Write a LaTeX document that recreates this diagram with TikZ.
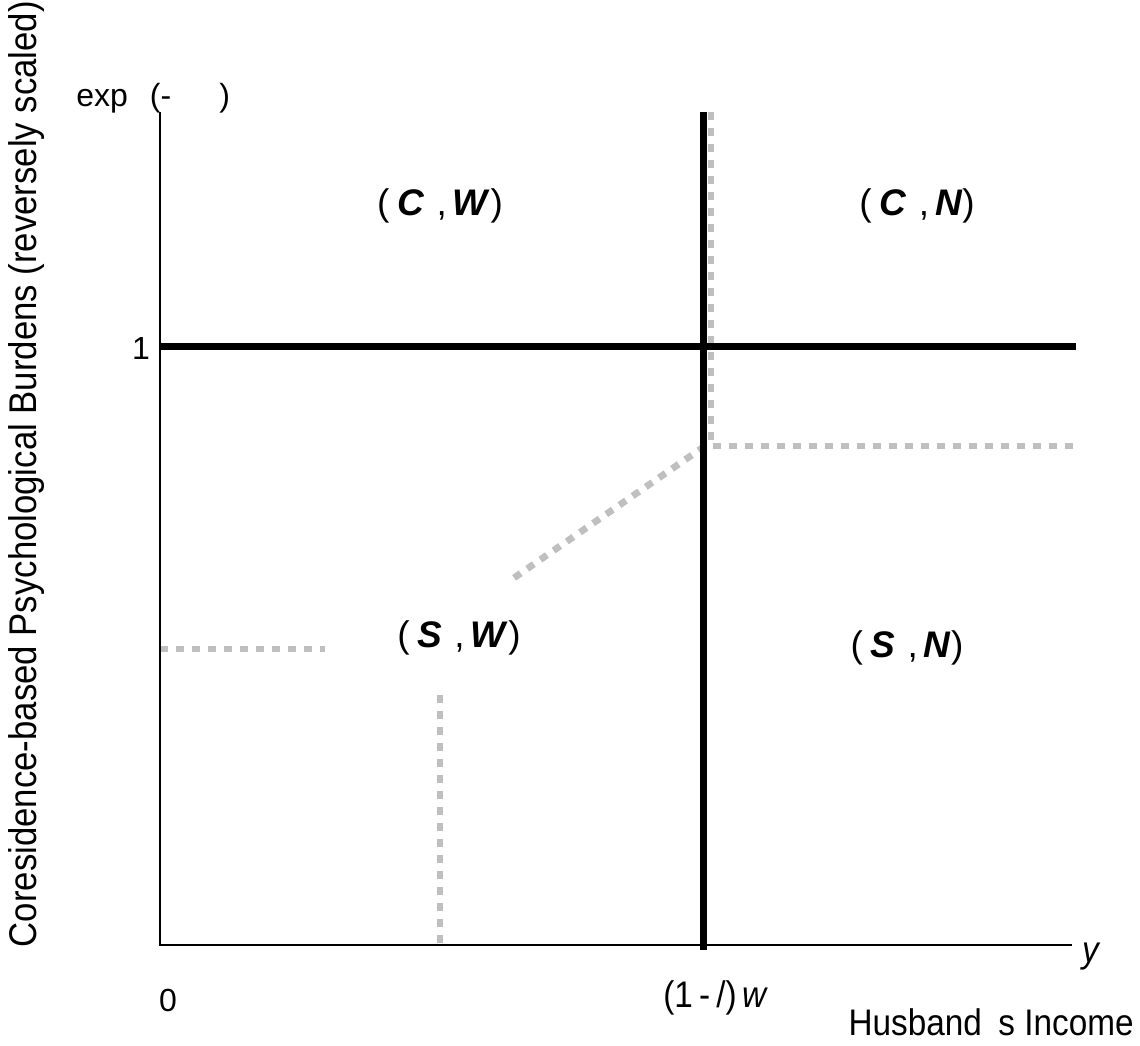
\documentclass[tikz,border=0pt]{standalone}
\usepackage{fontspec}
\setmainfont{Liberation Sans}
\newfontfamily\axfont[FakeStretch=0.9]{Liberation Sans}
\begin{document}
\begin{tikzpicture}[x=0.5pt,y=-0.5pt,
  axis/.style={line width=1.1pt,black},
  thick line/.style={line width=3.5pt,black},
  graydash/.style={line width=3.4pt,color=black!25,dash pattern=on 4pt off 4pt},
  lbl/.style={font=\fontsize{16}{18}\selectfont,inner sep=0pt},
  axlbl/.style={font=\axfont\fontsize{18.5}{20}\selectfont,inner sep=0pt},
  ylbl/.style={font=\axfont\fontsize{19.3}{21}\selectfont,inner sep=0pt},
  reg/.style={font=\fontsize{18.5}{20}\selectfont,inner sep=0pt}]
\useasboundingbox (0,0) rectangle (1140,1045);
% coordinates
\coordinate (O) at (160,945);
\coordinate (Ytop) at (160,112);
\coordinate (Xend) at (1072,945);
\coordinate (Hl) at (160,346);
\coordinate (Hr) at (1076,346);
\coordinate (Vt) at (703,112);
\coordinate (Vb) at (703,950);
\coordinate (G1) at (711,112);
\coordinate (G2) at (711,446);
\coordinate (G3) at (1076,446);
\coordinate (G4) at (705,446);
\coordinate (G5) at (508,582);
\coordinate (G6) at (160,649);
\coordinate (G7) at (325,649);
\coordinate (G8) at (440,695);
\coordinate (G9) at (440,945);
% gray dotted lines
\draw[graydash] (G1) -- (G2) -- (G3);
\draw[graydash] (G4) -- (G5);
\draw[graydash] (G6) -- (G7);
\draw[graydash] (G8) -- (G9);
% axes
\draw[axis] (Ytop) -- (O) -- (Xend);
% thick lines
\draw[thick line] (Hl) -- (Hr);
\draw[thick line] (Vt) -- (Vb);
% labels
\node[lbl,anchor=west] (exp) at (76,98) {exp\hspace{11pt}(-\hspace{24pt})};
\node[lbl] (one) at (141,348) {1};
\node[lbl] (zero) at (168,1000) {0};
\node[axlbl] (thr) at (716,998) {(1\,-\,/)\,\textit{w}};
\node[axlbl] (yl) at (1092,957) {\textit{y}};
\node[axlbl,anchor=east] (hinc) at (1134,1022) {Husband\hspace{0.45em}s Income};
\node[ylbl,rotate=90] (ylab) at (27,474) {Coresidence-based Psychological Burdens (reversely scaled)};
\newcommand{\pairlbl}[2]{(\hspace{4pt}\textit{\textbf{#1}}\hspace{6pt},\hspace{3pt}\textit{\textbf{#2}})}
\node[reg] (CW) at (440,206) {\pairlbl{C}{W}};
\node[reg] (CN) at (917,206) {\pairlbl{C}{N}};
\node[reg] (SW) at (459,638) {\pairlbl{S}{W}};
\node[reg] (SN) at (907,648) {\pairlbl{S}{N}};
\end{tikzpicture}
\end{document}
